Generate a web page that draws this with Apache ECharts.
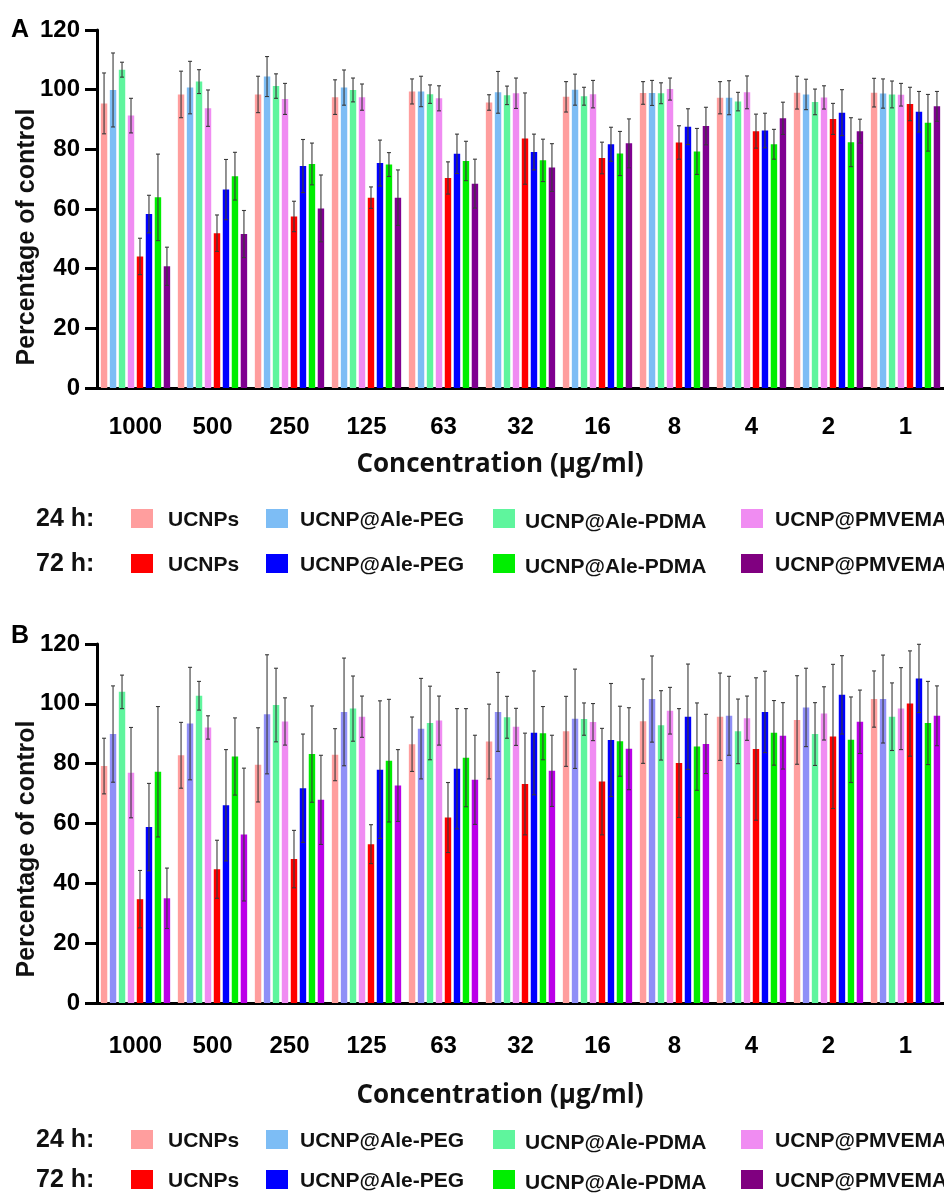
<!DOCTYPE html>
<html>
<head>
<meta charset="utf-8">
<script src="https://cdn.jsdelivr.net/npm/echarts@6/dist/echarts.min.js"></script>
<style>
html,body{margin:0;padding:0;background:#fff;overflow:hidden;}
#chart{width:944px;height:1195px;}
</style>
</head>
<body>
<div id="chart"></div>
<script>
// ---- data ----
const categories = ['1000','500','250','125','63','32','16','8','4','2','1'];
const yTicks = [0,20,40,60,80,100,120];
const seriesNames = ['UCNPs','UCNP@Ale-PEG','UCNP@Ale-PDMA','UCNP@PMVEMA'];

// Panel A means (24 h)
const A24_UCNPs   = [95.4, 98.4, 98.4, 97.5, 99.4, 95.7, 97.6, 98.9, 97.3, 99.0, 99.0];
const A24_PEG     = [99.9, 100.7, 104.4, 100.7, 99.4, 99.1, 100.0, 98.9, 97.3, 98.4, 98.7];
const A24_PDMA    = [106.7, 102.7, 101.2, 99.9, 98.5, 98.1, 97.8, 98.8, 96.0, 95.9, 98.4];
const A24_PMVEMA  = [91.3, 93.8, 96.9, 97.5, 97.1, 98.8, 98.5, 100.2, 99.1, 97.4, 98.3];
// Panel A means (72 h)
const A72_UCNPs   = [44.1, 51.9, 57.5, 63.8, 70.4, 83.6, 77.1, 82.3, 86.1, 90.2, 95.2];
const A72_PEG     = [58.3, 66.5, 74.4, 75.4, 78.5, 79.1, 81.7, 87.6, 86.3, 92.3, 92.6];
const A72_PDMA    = [63.9, 71.0, 75.1, 74.9, 76.1, 76.3, 78.6, 79.3, 81.7, 82.4, 88.9];
const A72_PMVEMA  = [40.8, 51.6, 60.2, 63.8, 68.5, 73.9, 82.0, 87.8, 90.4, 86.1, 94.4];
// Panel A errors
const A24_UCNPs_err  = [10.2, 7.8, 6.1, 5.8, 4.2, 2.6, 5.1, 3.8, 5.4, 5.5, 4.8];
const A24_PEG_err    = [12.4, 8.8, 6.7, 5.9, 5.1, 7.0, 5.2, 4.2, 5.7, 5.1, 4.9];
const A24_PDMA_err   = [2.5, 4.0, 4.1, 4.0, 3.1, 3.1, 3.0, 3.5, 3.1, 4.3, 4.5];
const A24_PMVEMA_err = [5.8, 6.1, 5.2, 4.4, 4.2, 5.1, 4.6, 3.7, 5.5, 3.9, 3.8];
const A72_UCNPs_err  = [6.1, 6.1, 5.1, 3.6, 5.4, 15.3, 5.3, 5.6, 5.7, 5.2, 5.6];
const A72_PEG_err    = [6.3, 10.1, 8.9, 7.7, 6.6, 6.0, 5.7, 6.0, 5.8, 7.7, 6.8];
const A72_PDMA_err   = [14.5, 8.0, 7.0, 4.0, 6.6, 7.1, 7.4, 7.7, 5.0, 8.2, 9.5];
const A72_PMVEMA_err = [6.4, 7.9, 11.2, 9.3, 8.2, 8.0, 8.2, 6.3, 5.4, 4.0, 5.0];

// Panel B means (24 h)
const B24_UCNPs   = [79.2, 82.8, 79.6, 83.0, 86.5, 87.4, 90.8, 94.2, 95.7, 94.6, 101.6];
const B24_PEG     = [89.9, 93.4, 96.5, 97.3, 91.7, 97.3, 95.0, 101.6, 96.0, 98.8, 101.6];
const B24_PDMA    = [104.0, 102.7, 99.6, 98.4, 93.6, 95.5, 94.9, 92.8, 90.8, 89.9, 95.7];
const B24_PMVEMA  = [77.0, 92.1, 94.1, 95.7, 94.4, 92.3, 93.9, 97.7, 95.2, 96.8, 98.4];
// Panel B means (72 h)
const B72_UCNPs   = [34.7, 44.7, 48.1, 53.1, 62.0, 73.2, 74.0, 80.2, 84.9, 89.1, 100.1];
const B72_PEG     = [58.8, 66.1, 71.8, 78.0, 78.3, 90.3, 87.9, 95.7, 97.3, 103.0, 108.5];
const B72_PDMA    = [77.3, 82.4, 83.2, 81.0, 82.0, 90.2, 87.5, 85.7, 90.3, 88.0, 93.6];
const B72_PMVEMA  = [35.0, 56.3, 67.9, 72.7, 74.6, 77.6, 85.0, 86.6, 89.3, 94.0, 96.0];
// Panel B errors
const B24_UCNPs_err  = [9.3, 11.0, 12.4, 8.7, 9.1, 12.5, 11.7, 14.1, 14.6, 14.8, 9.4];
const B24_PEG_err    = [16.1, 18.8, 19.9, 18.0, 16.8, 13.2, 16.6, 14.4, 13.2, 13.1, 14.7];
const B24_PDMA_err   = [5.6, 4.8, 12.3, 10.9, 12.3, 7.0, 5.4, 11.6, 10.8, 10.5, 11.3];
const B24_PMVEMA_err = [15.1, 3.9, 7.9, 6.9, 8.2, 6.2, 6.2, 7.8, 7.4, 8.9, 13.7];
const B72_UCNPs_err  = [9.6, 9.7, 9.6, 6.5, 11.7, 17.0, 17.8, 18.2, 23.8, 24.1, 17.6];
const B72_PEG_err    = [14.6, 18.6, 18.1, 23.0, 20.1, 20.7, 18.9, 17.6, 13.6, 13.1, 11.4];
const B72_PDMA_err   = [21.8, 12.9, 16.1, 20.5, 16.4, 8.9, 11.7, 14.6, 10.8, 14.3, 13.9];
const B72_PMVEMA_err = [10.1, 22.2, 14.9, 12.0, 14.9, 11.9, 13.7, 9.9, 11.1, 10.6, 10.0];

// ---- styles ----
const colorsA = ['#ff9e9e','#7dbdf5','#5ff59d','#f08cf2','#ff0000','#0000ff','#00ee00','#7f0090'];
const colorsB = ['#ff9e9e','#8f8ff7','#5ff59d','#f08cf2','#ff0000','#0000ff','#00ee00','#bb00e8'];
const legendColors24 = ['#ff9e9e','#7dbdf5','#5ff59d','#f08cf2'];
const legendColors72 = ['#ff0000','#0000ff','#00ee00','#800080'];

const panelA = {
  means: [A24_UCNPs, A24_PEG, A24_PDMA, A24_PMVEMA, A72_UCNPs, A72_PEG, A72_PDMA, A72_PMVEMA],
  errs: [A24_UCNPs_err, A24_PEG_err, A24_PDMA_err, A24_PMVEMA_err, A72_UCNPs_err, A72_PEG_err, A72_PDMA_err, A72_PMVEMA_err],
  colors: colorsA
};
const panelB = {
  means: [B24_UCNPs, B24_PEG, B24_PDMA, B24_PMVEMA, B72_UCNPs, B72_PEG, B72_PDMA, B72_PMVEMA],
  errs: [B24_UCNPs_err, B24_PEG_err, B24_PDMA_err, B24_PMVEMA_err, B72_UCNPs_err, B72_PEG_err, B72_PDMA_err, B72_PMVEMA_err],
  colors: colorsB
};

const CAT_GAP = 0.10, BAR_GAP = 0.40, NBARS = 8;
const FONT = '"Liberation Sans", Arial, sans-serif';

function errRender(params, api) {
  const cat = api.value(0), k = api.value(1), v = api.value(2), e = api.value(3);
  const catW = api.size([1, 0])[0];
  const total = catW * (1 - CAT_GAP);
  const w = total / (NBARS + (NBARS - 1) * BAR_GAP);
  const cx = api.coord([cat, 0])[0] - total / 2 + k * w * (1 + BAR_GAP) + w / 2;
  const yTop = api.coord([cat, v + e])[1];
  const yBot = api.coord([cat, v - e])[1];
  const st = { stroke: '#3a3a3a', lineWidth: 1.1 };
  const cap = 2;
  return {
    type: 'group',
    children: [
      { type: 'line', shape: { x1: cx, y1: yTop, x2: cx, y2: yBot }, style: st },
      { type: 'line', shape: { x1: cx - cap, y1: yTop, x2: cx + cap, y2: yTop }, style: st },
      { type: 'line', shape: { x1: cx - cap, y1: yBot, x2: cx + cap, y2: yBot }, style: st }
    ]
  };
}

function buildSeries(panel, gi) {
  const out = [];
  panel.means.forEach((m, k) => {
    out.push({
      type: 'bar', xAxisIndex: gi, yAxisIndex: gi,
      name: (k < 4 ? '24 h ' : '72 h ') + seriesNames[k % 4],
      data: m, barCategoryGap: (CAT_GAP * 100) + '%', barGap: (BAR_GAP * 100) + '%',
      itemStyle: { color: panel.colors[k] }, silent: true, z: 2
    });
  });
  const errData = [];
  panel.means.forEach((m, k) => {
    m.forEach((v, i) => errData.push([i, k, v, panel.errs[k][i]]));
  });
  out.push({
    type: 'custom', xAxisIndex: gi, yAxisIndex: gi, renderItem: errRender,
    data: errData, encode: { x: 0, y: 2 }, z: 5, silent: true
  });
  return out;
}

function xAxis(gi, margin) {
  return {
    type: 'category', gridIndex: gi, data: categories,
    axisLine: { lineStyle: { color: '#000', width: 3 } },
    axisTick: { alignWithLabel: true, length: 15, lineStyle: { color: '#000', width: 3 } },
    axisLabel: { color: '#000', fontSize: 24, fontWeight: 'bold', fontFamily: FONT, margin: margin }
  };
}
function yAxis(gi) {
  return {
    type: 'value', gridIndex: gi, min: 0, max: 120, interval: 20,
    splitLine: { show: false },
    axisLine: { show: true, lineStyle: { color: '#000', width: 3 } },
    axisTick: { show: true, length: 12, lineStyle: { color: '#000', width: 3 } },
    axisLabel: { color: '#000', fontSize: 24, fontWeight: 'bold', fontFamily: FONT, margin: 17,
      formatter: v => yTicks.includes(v) ? String(v) : '' }
  };
}

function legendGraphics(y1, y2) {
  const g = [];
  const swX = [131, 266, 493, 741];
  const txX = [168, 300, 525, 775];
  const rows = [['24 h:', legendColors24, y1], ['72 h:', legendColors72, y2]];
  rows.forEach(([lab, cols, y]) => {
    g.push({ type: 'text', x: 36, y: y, style: { text: lab, fontSize: 25, fontWeight: 'bold', fontFamily: FONT, fill: '#111', verticalAlign: 'middle', textVerticalAlign: 'middle' } });
    cols.forEach((c, i) => {
      g.push({ type: 'rect', shape: { x: swX[i], y: y - 10, width: 22, height: 19 }, style: { fill: c } });
      g.push({ type: 'text', x: txX[i], y: y + (i === 2 ? 3 : 1), style: { text: seriesNames[i], fontSize: 21, fontWeight: 'bold', fontFamily: FONT, fill: '#111', verticalAlign: 'middle', textVerticalAlign: 'middle' } });
    });
  });
  return g;
}

const titleFont = { fontSize: 26, fontWeight: 'bold', fontFamily: '"Open Sans", sans-serif', fill: '#111', align: 'center', textAlign: 'center', verticalAlign: 'middle', textVerticalAlign: 'middle' };
const yTitleFont = { fontSize: 25, fontWeight: 'bold', fontFamily: FONT, fill: '#111', align: 'center', textAlign: 'center', verticalAlign: 'middle', textVerticalAlign: 'middle' };

const graphics = [
  { type: 'text', x: 11, y: 30, style: { text: 'A', fontSize: 25, fontWeight: 'bold', fontFamily: FONT, fill: '#000', verticalAlign: 'middle', textVerticalAlign: 'middle' } },
  { type: 'text', x: 11, y: 636, style: { text: 'B', fontSize: 25, fontWeight: 'bold', fontFamily: FONT, fill: '#000', verticalAlign: 'middle', textVerticalAlign: 'middle' } },
  { type: 'text', x: 27, y: 237, rotation: Math.PI / 2, style: Object.assign({ text: 'Percentage of control' }, yTitleFont) },
  { type: 'text', x: 27, y: 849, rotation: Math.PI / 2, style: Object.assign({ text: 'Percentage of control' }, yTitleFont) },
  { type: 'text', x: 500, y: 465, style: Object.assign({ text: 'Concentration (µg/ml)' }, titleFont) },
  { type: 'text', x: 500, y: 1096, style: Object.assign({ text: 'Concentration (µg/ml)' }, titleFont) }
].concat(legendGraphics(519, 564), legendGraphics(1140, 1180));

const chart = echarts.init(document.getElementById('chart'), null, { renderer: 'canvas' });
chart.setOption({
  backgroundColor: '#fff',
  animation: false,
  grid: [
    { left: 97, top: 30, width: 857, height: 358 },
    { left: 97, top: 644, width: 857, height: 359 }
  ],
  xAxis: [xAxis(0, 27), xAxis(1, 31)],
  yAxis: [yAxis(0), yAxis(1)],
  series: buildSeries(panelA, 0).concat(buildSeries(panelB, 1)),
  graphic: graphics
});
</script>
</body>
</html>
